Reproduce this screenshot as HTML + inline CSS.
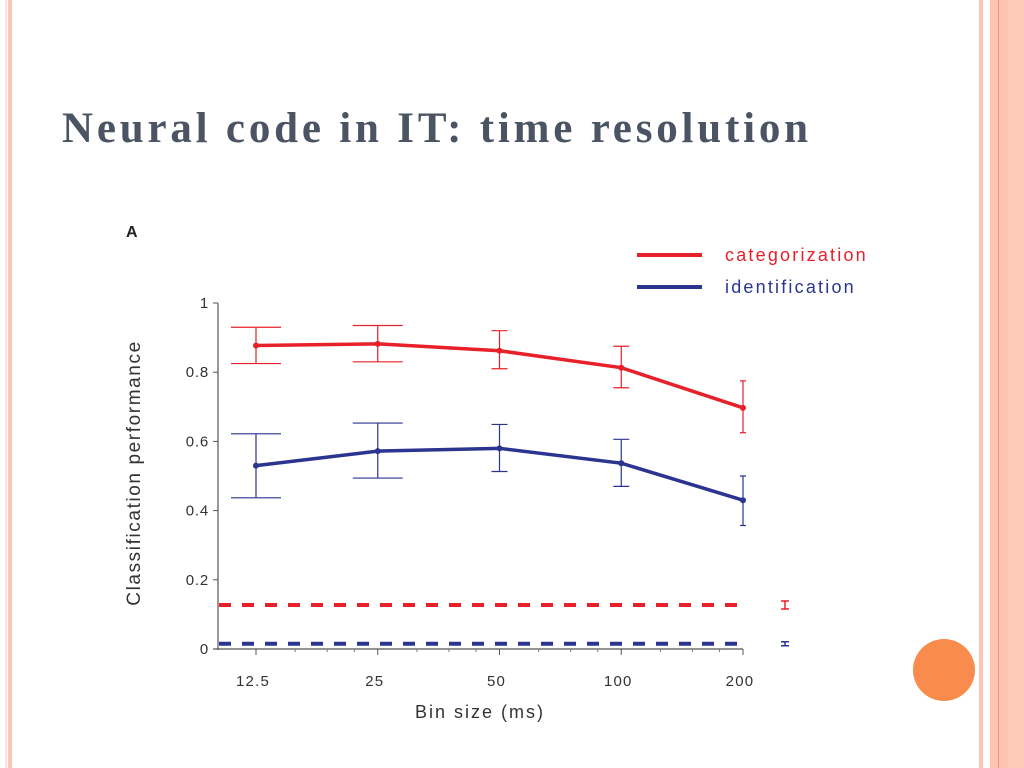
<!DOCTYPE html>
<html><head><meta charset="utf-8"><style>
body{margin:0;width:1024px;height:768px;background:#fff;position:relative;overflow:hidden;font-family:"Liberation Sans",sans-serif}
.s{position:absolute;top:0;height:768px}
</style></head><body>
<div class="s" style="left:5px;width:2px;background:#fbe3d6"></div>
<div class="s" style="left:8px;width:4px;background:#fcc6b6"></div>
<div class="s" style="left:979px;width:4px;background:#fcc6b6"></div>
<div class="s" style="left:990px;width:34px;background:#fdc4b1"></div>
<div class="s" style="left:998px;width:1px;background:#e8977a"></div>
<div class="s" style="left:1008px;width:16px;background:#ffcbb8"></div>
<div style="position:absolute;left:62px;top:104px;font:bold 43px 'Liberation Serif',serif;color:#4b5463;letter-spacing:3.8px;white-space:nowrap">Neural code in IT: time resolution</div>
<div style="position:absolute;left:913px;top:639px;width:62px;height:62px;border-radius:50%;background:#f98b4d"></div>
<svg id="chart" width="1024" height="768" style="position:absolute;left:0;top:0"></svg>
<script>
const categories=["12.5","25","50","100","200"];
const catVals=[0.877,0.882,0.862,0.813,0.697];
const catHi=[0.930,0.935,0.920,0.875,0.775];
const catLo=[0.825,0.830,0.810,0.755,0.625];
const idVals=[0.530,0.572,0.580,0.537,0.430];
const idHi=[0.622,0.653,0.649,0.606,0.500];
const idLo=[0.437,0.494,0.513,0.470,0.357];
const capW=[25,25,8,8,3];
const chanceCat=0.127, chanceId=0.015;
const yTicks=[0,0.2,0.4,0.6,0.8,1];
const yTickLabels=["0","0.2","0.4","0.6","0.8","1"];
const svg=document.getElementById('chart');
const NS='http://www.w3.org/2000/svg';
const X=i=>256+i*121.75, Y=v=>649-v*346;
function el(t,a,p){const e=document.createElementNS(NS,t);for(const k in a)e.setAttribute(k,a[k]);(p||svg).appendChild(e);return e;}
let e;
e=el('line',{x1:218,y1:Y(1),x2:218,y2:Y(0)+1,stroke:'#555','stroke-width':1.2});

e=el('line',{x1:213,y1:Y(0),x2:743,y2:Y(0),stroke:'#555','stroke-width':1.2});

yTicks.forEach((v,i)=>{
 e=el('line',{x1:213,y1:Y(v),x2:218,y2:Y(v),stroke:'#555'});
 
 e=el('text',{x:209,y:Y(v)+5,'text-anchor':'end','font-size':15,fill:'#333','font-family':'Liberation Sans','letter-spacing':0.8});
 e.textContent=yTickLabels[i];
 
});
categories.forEach((c,i)=>{
 e=el('line',{x1:X(i),y1:Y(0),x2:X(i),y2:Y(0)+6,stroke:'#555'});
 
 e=el('text',{x:X(i)-3,y:686,'text-anchor':'middle','font-size':15,fill:'#333','font-family':'Liberation Sans','letter-spacing':1.2});
 e.textContent=c;
 
 if(i<categories.length-1){for(let k=1;k<4;k++){const xx=X(i)+121.75*Math.log2(1+k/4);
  e=el('line',{x1:xx,y1:Y(0),x2:xx,y2:Y(0)+3,stroke:'#777'});
  }}
});
e=el('text',{x:480,y:718,'text-anchor':'middle','font-size':18,fill:'#333','font-family':'Liberation Sans','letter-spacing':2});
e.textContent='Bin size (ms)';
e=el('text',{x:0,y:0,'text-anchor':'middle','font-size':19,fill:'#333','font-family':'Liberation Sans','letter-spacing':1.6,transform:'translate(140,473) rotate(-90)'});
e.textContent='Classification performance';
e=el('text',{x:126,y:237,'font-size':16,'font-weight':'bold',fill:'#222','font-family':'Liberation Sans'});
e.textContent='A';
function series(vals,hi,lo,col,name){
 vals.forEach((v,i)=>{const x=X(i),w=capW[i];
  e=el('path',{d:`M${x},${Y(hi[i])}V${Y(lo[i])}M${x-w},${Y(hi[i])}H${x+w}M${x-w},${Y(lo[i])}H${x+w}`,stroke:col,'stroke-width':1.2,fill:'none'});
  
  e=el('circle',{cx:x,cy:Y(v),r:3,fill:col});
  
 });
 e=el('polyline',{points:vals.map((v,i)=>X(i)+','+Y(v)).join(' '),stroke:col,'stroke-width':3.5,fill:'none'});
 
}
series(catVals,catHi,catLo,'#e8202a','categorization');
series(idVals,idHi,idLo,'#2b3590','identification');
e=el('line',{x1:219,y1:Y(chanceCat),x2:743,y2:Y(chanceCat),stroke:'#e8202a','stroke-width':4,'stroke-dasharray':'12 11'});

e=el('line',{x1:219,y1:Y(chanceId),x2:743,y2:Y(chanceId),stroke:'#2b3590','stroke-width':4,'stroke-dasharray':'12 11'});

e=el('path',{d:`M781,${Y(chanceCat)-4}H789M785,${Y(chanceCat)-4}V${Y(chanceCat)+4}M781,${Y(chanceCat)+4}H789`,stroke:'#e8202a','stroke-width':1.5});

e=el('path',{d:`M781,${Y(chanceId)-2}H789M781,${Y(chanceId)+2}H789M785,${Y(chanceId)-2}V${Y(chanceId)+2}`,stroke:'#2b3590','stroke-width':1.5});

[['categorization','#e8202a',255],['identification','#2b3590',287]].forEach(([t,c,y])=>{
 e=el('line',{x1:637,y1:y,x2:702,y2:y,stroke:c,'stroke-width':4});
 
 e=el('text',{x:725,y:y+6,'font-size':18,fill:c,'font-family':'Liberation Sans','letter-spacing':2.2});
 e.textContent=t;
});
</script>
</body></html>
